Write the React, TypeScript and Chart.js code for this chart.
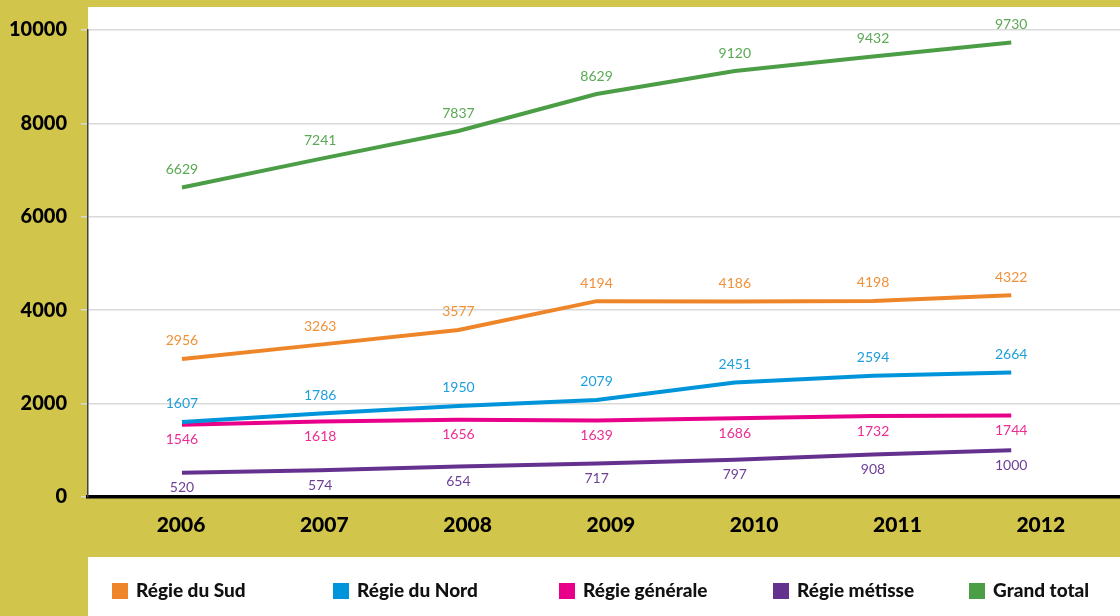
import React, { useEffect, useRef } from 'react';
import { Chart, registerables } from 'chart.js';

Chart.register(...registerables);

const years = ['2006', '2007', '2008', '2009', '2010', '2011', '2012'];
const regieSud = [2956, 3263, 3577, 4194, 4186, 4198, 4322];
const regieNord = [1607, 1786, 1950, 2079, 2451, 2594, 2664];
const regieGenerale = [1546, 1618, 1656, 1639, 1686, 1732, 1744];
const regieMetisse = [520, 574, 654, 717, 797, 908, 1000];
const grandTotal = [6629, 7241, 7837, 8629, 9120, 9432, 9730];
const seriesNames = ['Régie du Sud', 'Régie du Nord', 'Régie générale', 'Régie métisse', 'Grand total'];
const yTicks = [0, 2000, 4000, 6000, 8000, 10000];

const seriesValues = [regieSud, regieNord, regieGenerale, regieMetisse, grandTotal];
const lineColors = ['#EE8529', '#0095DA', '#E8008A', '#65318F', '#4C9E46'];
const labelColors = ['#F0913A', '#1E9FDD', '#EC2D92', '#6E3F98', '#5AA954'];
const labelBelow = [false, false, true, true, false];

const YELLOW = '#D2C54C';
const FONT = 'Lato, "Open Sans", sans-serif';

export default function App() {
  const ref = useRef<HTMLCanvasElement | null>(null);

  useEffect(() => {
    const canvas = ref.current;
    if (!canvas) return;

    const bgPlugin = {
      id: 'bg',
      beforeDraw(chart: any) {
        const { ctx, width, height, chartArea } = chart;
        ctx.save();
        ctx.fillStyle = YELLOW;
        ctx.fillRect(0, 0, width, height);
        ctx.fillStyle = '#ffffff';
        ctx.fillRect(chartArea.left, 7, width - chartArea.left, chartArea.bottom - 7);
        ctx.fillRect(chartArea.left, 557, width - chartArea.left, height - 557);
        ctx.restore();
      },
    };

    const labelPlugin = {
      id: 'valueLabels',
      afterDatasetsDraw(chart: any) {
        const { ctx } = chart;
        ctx.save();
        ctx.font = '14px ' + FONT;
        ctx.textAlign = 'center';
        ctx.textBaseline = 'middle';
        chart.data.datasets.forEach((ds: any, di: number) => {
          const meta = chart.getDatasetMeta(di);
          ctx.fillStyle = labelColors[di];
          meta.data.forEach((pt: any, i: number) => {
            const off = labelBelow[di] ? 15 : -18;
            ctx.fillText(String(seriesValues[di][i]), pt.x, pt.y + off);
          });
        });
        ctx.restore();
      },
    };

    const legendX = [112, 333, 559, 773, 969];
    const legendPlugin = {
      id: 'customLegend',
      afterDraw(chart: any) {
        const { ctx } = chart;
        ctx.save();
        ctx.font = '900 19px ' + FONT;
        ctx.textBaseline = 'middle';
        ctx.textAlign = 'left';
        chart.data.datasets.forEach((ds: any, di: number) => {
          const x = legendX[di];
          ctx.fillStyle = ds.borderColor;
          ctx.fillRect(x, 583, 16, 16);
          ctx.fillStyle = '#111111';
          ctx.fillText(ds.label, x + 24, 591);
        });
        ctx.restore();
      },
    };

    const chart = new Chart(canvas, {
      type: 'line',
      data: {
        datasets: seriesValues.map((vals, di) => ({
          label: seriesNames[di],
          data: vals.map((v, i) => ({ x: i, y: v })),
          borderColor: lineColors[di],
          backgroundColor: lineColors[di],
          borderWidth: 4,
          pointRadius: 0,
          tension: 0,
          fill: false,
          xAxisID: 'xd',
        })),
      },
      options: {
        animation: false,
        responsive: false,
        layout: { padding: { top: 30, right: 0, left: 0, bottom: 0 } },
        plugins: {
          legend: { display: false },
          tooltip: { enabled: false },
        },
        scales: {
          x: {
            type: 'linear',
            position: 'bottom',
            min: -0.649,
            max: 6.553,
            afterBuildTicks: (scale: any) => {
              scale.ticks = years.map((_, i) => ({ value: i }));
            },
            afterFit: (scale: any) => {
              scale.height = 119;
            },
            ticks: {
              autoSkip: false,
              maxRotation: 0,
              padding: 16,
              color: '#000000',
              font: { family: FONT, size: 21, weight: '900' },
              callback: (v: any) => years[Math.round(Number(v))] ?? '',
            },
            grid: { display: false, drawTicks: false },
            border: { display: true, color: '#000000', width: 3.5 },
          },
          xd: {
            type: 'linear',
            display: false,
            position: 'bottom',
            min: -0.68,
            max: 6.787,
          },
          y: {
            type: 'linear',
            min: 0,
            max: 10000,
            afterBuildTicks: (scale: any) => {
              scale.ticks = yTicks.map((v) => ({ value: v }));
            },
            afterFit: (scale: any) => {
              scale.width = 88;
            },
            ticks: {
              padding: 14,
              color: '#000000',
              font: { family: FONT, size: 20, weight: '900' },
              callback: (v: any) => String(v),
            },
            grid: { color: '#D9D9D9', lineWidth: 1.5, tickLength: 7, drawTicks: true },
            border: { display: true, color: '#444444', width: 1.5 },
          },
        },
      },
      plugins: [bgPlugin, labelPlugin, legendPlugin],
    });

    return () => chart.destroy();
  }, []);

  return (
    <canvas
      ref={ref}
      width={1120}
      height={616}
      style={{ position: 'fixed', left: 0, top: 0, width: 1120, height: 616, display: 'block' }}
    />
  );
}
